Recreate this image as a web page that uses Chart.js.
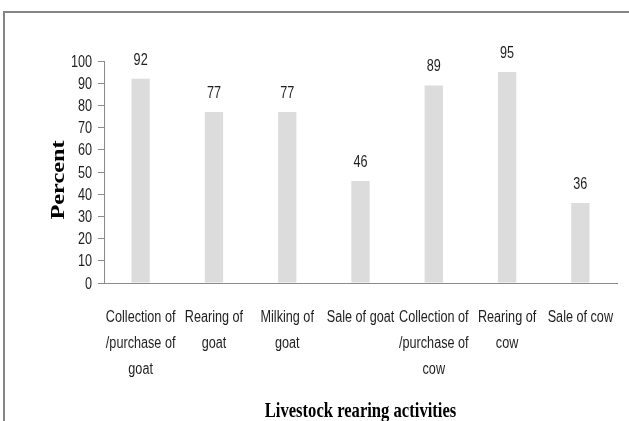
<!DOCTYPE html>
<html>
<head>
<meta charset="utf-8">
<script src="https://cdn.jsdelivr.net/npm/chart.js@4/dist/chart.umd.min.js"></script>
<style>
  html, body { margin: 0; padding: 0; background: #fff; overflow: hidden; }
  #wrap { position: relative; width: 629px; height: 421px; }
  #frame {
    position: absolute; left: 3px; top: 11px; width: 660px; height: 440px;
    border: 2px solid #858585; box-sizing: border-box;
  }
  canvas { position: absolute; left: 0; top: 0; }
</style>
</head>
<body>
<div id="wrap">
  <div id="frame"></div>
  <canvas id="canvas" width="629" height="421"></canvas>
</div>
<script>
const CATEGORIES = [
  ["Collection of", "/purchase of", "goat"],
  ["Rearing of", "goat"],
  ["Milking of", "goat"],
  ["Sale of goat"],
  ["Collection of", "/purchase of", "cow"],
  ["Rearing of", "cow"],
  ["Sale of cow"],
];
const PERCENT = [92, 77, 77, 46, 89, 95, 36];
const X_TITLE = "Livestock rearing activities";
const Y_TITLE = "Percent";

const BAR_COLOR = "#dcdcdc";
const AXIS_COLOR = "#8c8c8c";
const TEXT_COLOR = "#1e1e1e";
const SANS = "'Liberation Sans', Arial, sans-serif";
const SERIF = "'Liberation Serif', 'Times New Roman', serif";
const SQUEEZE = 0.79; // the original font is a narrow one (Calibri like)

// draw text squeezed horizontally around (x, y)
const narrowText = (c, text, x, y, align, sx) => {
  c.save();
  c.translate(x, y);
  c.scale(sx, 1);
  c.textAlign = align;
  c.fillText(text, 0, 0);
  c.restore();
};

const textLayer = {
  id: "textLayer",
  afterDraw(chart) {
    const c = chart.ctx;
    const xs = chart.scales.x;
    const ys = chart.scales.y;
    const area = chart.chartArea;
    c.save();
    c.fillStyle = TEXT_COLOR;
    c.textBaseline = "alphabetic";
    c.font = "16px " + SANS;

    // y tick labels
    ys.ticks.forEach((t) => {
      narrowText(c, String(t.value), xs.left - 12, ys.getPixelForValue(t.value) + 5.5, "right", SQUEEZE);
    });

    // category labels
    CATEGORIES.forEach((lines, i) => {
      const x = xs.getPixelForValue(i);
      lines.forEach((line, k) => {
        narrowText(c, line, x, area.bottom + 39 + k * 26, "center", SQUEEZE);
      });
    });

    // values above bars
    chart.getDatasetMeta(0).data.forEach((bar, i) => {
      narrowText(c, String(PERCENT[i]), bar.x, bar.y - 14, "center", SQUEEZE);
    });

    // axis titles
    c.fillStyle = "#000";
    c.font = "bold 22px " + SERIF;
    narrowText(c, X_TITLE, (area.left + area.right) / 2, 417, "center", 0.755);

    c.font = "bold 18px " + SERIF;
    c.save();
    c.translate(64, 180);
    c.rotate(-Math.PI / 2);
    narrowText(c, Y_TITLE, 0, 0, "center", 1.35);
    c.restore();
    c.restore();
  },
};

new Chart(document.getElementById("canvas"), {
  type: "bar",
  data: {
    labels: CATEGORIES,
    datasets: [
      {
        data: PERCENT,
        backgroundColor: BAR_COLOR,
        barPercentage: 0.25,
        categoryPercentage: 1,
      },
    ],
  },
  options: {
    responsive: false,
    animation: false,
    layout: { padding: { top: 61, right: 12, left: 0, bottom: 0 } },
    plugins: { legend: { display: false }, tooltip: { enabled: false } },
    scales: {
      x: {
        grid: { display: false },
        border: { display: true, color: AXIS_COLOR, width: 1 },
        ticks: { display: false },
        afterFit(scale) {
          scale.height = 138;
        },
      },
      y: {
        min: 0,
        max: 100,
        grid: {
          drawOnChartArea: false,
          drawTicks: true,
          tickLength: 6,
          color: AXIS_COLOR,
        },
        border: { display: true, color: AXIS_COLOR, width: 1 },
        ticks: { stepSize: 10, color: "rgba(0,0,0,0)" },
        afterFit(scale) {
          scale.width = 104;
        },
      },
    },
  },
  plugins: [textLayer],
});
</script>
</body>
</html>
